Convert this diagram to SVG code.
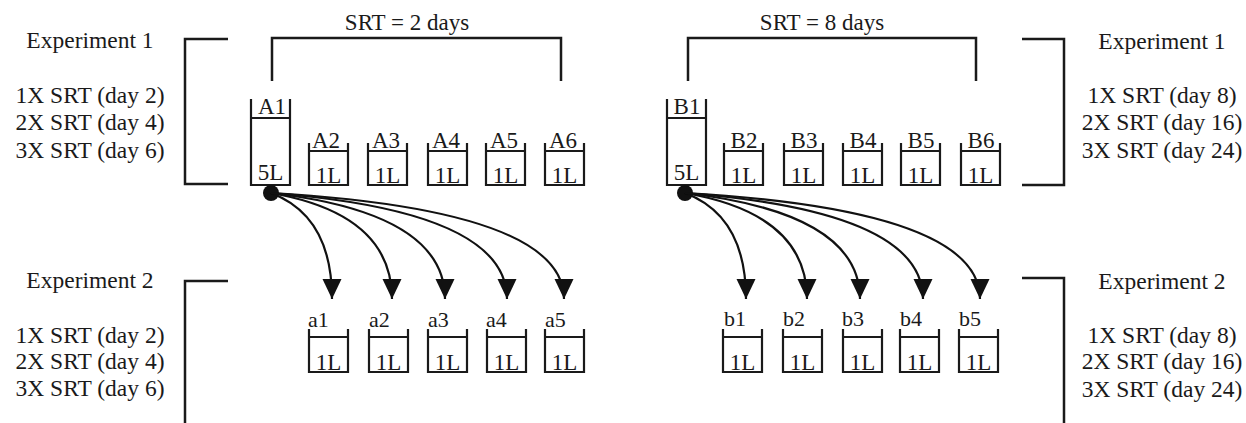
<svg xmlns="http://www.w3.org/2000/svg" width="1246" height="423" viewBox="0 0 1246 423">
<style>
text{font-family:"Liberation Serif","Times New Roman",serif;fill:#1a1a1a}
.side{font-size:23.5px;text-anchor:middle}
.srt{font-size:23px;text-anchor:middle}
.lab{font-size:23px;text-anchor:middle}
.labl{font-size:22px}
.br{fill:none;stroke:#1a1a1a;stroke-width:2.5}
.tk{fill:none;stroke:#1a1a1a;stroke-width:2.2}
.cn{fill:none;stroke:#111;stroke-width:2.2}
</style>
<defs>
<marker id="ah" markerUnits="userSpaceOnUse" markerWidth="22" markerHeight="22" viewBox="0 0 22 22" refX="20" refY="11" orient="auto">
<path d="M0,1.5 L20,11 L0,20.5 Z" fill="#111"/>
</marker>
<g id="small"><path class="tk" d="M0,0 V42 H39 V0 M0,8 H39"/><text class="lab" x="19.5" y="40">1L</text></g>
<g id="bot"><path class="tk" d="M0,0 V43 H39 V0 M0,8 H39"/><text class="lab" x="19.5" y="41">1L</text></g>
</defs>

<g id="left-text">
<text class="side" x="90" y="48">Experiment 1</text>
<text class="side" x="90" y="103">1X SRT (day 2)</text>
<text class="side" x="90" y="130">2X SRT (day 4)</text>
<text class="side" x="90" y="158">3X SRT (day 6)</text>
<text class="side" x="90" y="288">Experiment 2</text>
<text class="side" x="90" y="343">1X SRT (day 2)</text>
<text class="side" x="90" y="369">2X SRT (day 4)</text>
<text class="side" x="90" y="396">3X SRT (day 6)</text>
</g>
<g id="right-text">
<text class="side" x="1162" y="49">Experiment 1</text>
<text class="side" x="1162" y="103">1X SRT (day 8)</text>
<text class="side" x="1162" y="130">2X SRT (day 16)</text>
<text class="side" x="1162" y="158">3X SRT (day 24)</text>
<text class="side" x="1162" y="289">Experiment 2</text>
<text class="side" x="1162" y="343">1X SRT (day 8)</text>
<text class="side" x="1162" y="369">2X SRT (day 16)</text>
<text class="side" x="1162" y="397">3X SRT (day 24)</text>
</g>

<g id="brackets">
<path class="br" d="M228,39 H185 V184 H228"/>
<path class="br" d="M228,281 H185 V423"/>
<path class="br" d="M1022,39 H1064 V185 H1022"/>
<path class="br" d="M1022,278 H1064 V423"/>
<path class="br" d="M272,81 V38 H561 V81"/>
<path class="br" d="M688,81 V38 H976 V81"/>
<text class="srt" x="407" y="30">SRT = 2 days</text>
<text class="srt" x="822" y="30">SRT = 8 days</text>
</g>

<g id="A1"><path class="tk" d="M251,99 V185 H290 V99 M251,118 H290"/><text class="lab" x="272" y="114">A1</text><text class="lab" x="270.5" y="180">5L</text></g>
<g id="A2"><use href="#small" x="309" y="143"/><text class="lab" x="326" y="148">A2</text></g>
<g id="A3"><use href="#small" x="368" y="143"/><text class="lab" x="386" y="148">A3</text></g>
<g id="A4"><use href="#small" x="428" y="143"/><text class="lab" x="446" y="148">A4</text></g>
<g id="A5"><use href="#small" x="486" y="143"/><text class="lab" x="504" y="148">A5</text></g>
<g id="A6"><use href="#small" x="545" y="143"/><text class="lab" x="563" y="148">A6</text></g>

<g id="B1"><path class="tk" d="M667,99 V185 H706 V99 M667,118 H706"/><text class="lab" x="687" y="114">B1</text><text class="lab" x="686.5" y="180">5L</text></g>
<g id="B2"><use href="#small" x="724" y="143"/><text class="lab" x="744" y="148">B2</text></g>
<g id="B3"><use href="#small" x="784" y="143"/><text class="lab" x="804" y="148">B3</text></g>
<g id="B4"><use href="#small" x="843" y="143"/><text class="lab" x="863" y="148">B4</text></g>
<g id="B5"><use href="#small" x="901" y="143"/><text class="lab" x="921" y="148">B5</text></g>
<g id="B6"><use href="#small" x="961" y="143"/><text class="lab" x="981" y="148">B6</text></g>

<g id="a1"><use href="#bot" x="309" y="329"/><text class="labl" x="308" y="327">a1</text></g>
<g id="a2"><use href="#bot" x="369" y="329"/><text class="labl" x="369" y="327">a2</text></g>
<g id="a3"><use href="#bot" x="428" y="329"/><text class="labl" x="428" y="327">a3</text></g>
<g id="a4"><use href="#bot" x="487" y="329"/><text class="labl" x="486" y="327">a4</text></g>
<g id="a5"><use href="#bot" x="545" y="329"/><text class="labl" x="545" y="327">a5</text></g>

<g id="b1"><use href="#bot" x="723" y="329"/><text class="labl" x="724" y="326">b1</text></g>
<g id="b2"><use href="#bot" x="783" y="329"/><text class="labl" x="783" y="326">b2</text></g>
<g id="b3"><use href="#bot" x="843" y="329"/><text class="labl" x="842" y="326">b3</text></g>
<g id="b4"><use href="#bot" x="900" y="329"/><text class="labl" x="900" y="326">b4</text></g>
<g id="b5"><use href="#bot" x="959" y="329"/><text class="labl" x="959" y="326">b5</text></g>

<g id="connectors">
<circle cx="271" cy="193" r="8" fill="#111"/>
<path class="cn" marker-end="url(#ah)" d="M271,193 Q332,216 332,299"/>
<path class="cn" marker-end="url(#ah)" d="M271,193 Q392,214 392,299"/>
<path class="cn" marker-end="url(#ah)" d="M271,193 Q445,213 445,299"/>
<path class="cn" marker-end="url(#ah)" d="M271,193 Q507,211 507,299"/>
<path class="cn" marker-end="url(#ah)" d="M271,193 Q564,210 564,299"/>
<circle cx="685" cy="193" r="8" fill="#111"/>
<path class="cn" marker-end="url(#ah)" d="M685,193 Q746,216 746,299"/>
<path class="cn" marker-end="url(#ah)" d="M685,193 Q807,214 807,299"/>
<path class="cn" marker-end="url(#ah)" d="M685,193 Q860,213 860,299"/>
<path class="cn" marker-end="url(#ah)" d="M685,193 Q923,211 923,299"/>
<path class="cn" marker-end="url(#ah)" d="M685,193 Q980,210 980,299"/>
</g>
</svg>
